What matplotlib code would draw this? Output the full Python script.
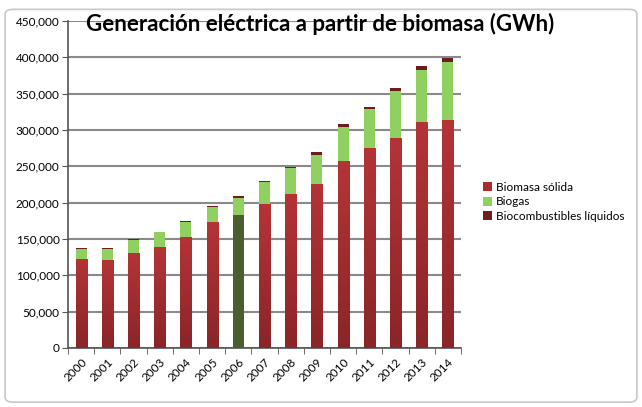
import numpy as np
import matplotlib.pyplot as plt
from matplotlib.colors import LinearSegmentedColormap
from matplotlib.patches import FancyBboxPatch

years = [str(y) for y in range(2000, 2015)]
solida = [123000, 121500, 131000, 139500, 153000, 173000, 183000, 198000,
          212500, 226000, 258000, 275000, 288500, 310500, 314000]
biogas = [13000, 15000, 17500, 19500, 20000, 20500, 24000, 30500,
          35000, 40000, 45700, 53500, 65200, 72500, 79600]
liquidos = [1000, 1200, 1300, 1000, 1300, 1800, 2200, 1800,
            1500, 4200, 5000, 3600, 4100, 4600, 5000]
highlight_year = "2006"

plt.rcParams["font.family"] = ["Lato", "DejaVu Sans"]

fig = plt.figure(figsize=(6.42, 4.07), dpi=100)
ax = fig.add_axes([68 / 642, 1 - 348 / 407, 393 / 642, 327 / 407])

# outer rounded frame
frame = FancyBboxPatch((0.008, 0.012), 0.984, 0.965,
                       boxstyle="round,pad=0,rounding_size=0.012",
                       transform=fig.transFigure, fill=False,
                       edgecolor="#c8c8c8", linewidth=1.2)
fig.patches.append(frame)

x = np.arange(len(years))
w = 0.42
c_solid = ["#4b5f2e" if y == highlight_year else "#a92d2f" for y in years]
bars = ax.bar(x, solida, w, color=c_solid, label="Biomasa sólida", zorder=3)
ax.bar(x, biogas, w, bottom=solida, color="#8fd060", label="Biogas", zorder=3)
bottom2 = np.array(solida) + np.array(biogas)
ax.bar(x, liquidos, w, bottom=bottom2, color="#6b1d1f",
       label="Biocombustibles líquidos", zorder=3)

# vertical gradient on the red bars (darker at the base)
red_grad = LinearSegmentedColormap.from_list("rg", ["#8a2528", "#b43437"])
grad = np.linspace(0, 1, 256).reshape(-1, 1)
for b, yr in zip(bars, years):
    if yr == highlight_year:
        continue
    x0, h = b.get_x(), b.get_height()
    im = ax.imshow(grad, cmap=red_grad, origin="lower", aspect="auto",
                   extent=[x0, x0 + w, 0, h], zorder=3.5)
    im.set_clip_path(b)

ax.set_xlim(-0.5, len(years) - 0.5)
ax.set_ylim(0, 450000)
ax.set_yticks(np.arange(0, 450001, 50000))
ax.set_yticklabels([f"{v:,}" for v in range(0, 450001, 50000)], fontsize=8.5)
ax.set_xticks(x)
ax.set_xticklabels(years, rotation=45, fontsize=8.5, ha="right",
                   rotation_mode="anchor")
ax.set_xticks(np.arange(-0.5, len(years)), minor=True)
ax.tick_params(axis="x", which="major", length=0, pad=6)
ax.tick_params(axis="x", which="minor", length=4, color="#555555")
ax.tick_params(axis="y", length=4, color="#555555", pad=2)

ax.grid(axis="y", color="#8a8a8a", linewidth=1.5, zorder=0)
for s in ["top", "right"]:
    ax.spines[s].set_visible(False)
ax.spines["left"].set_color("#555555")
ax.spines["bottom"].set_color("#555555")
ax.spines["left"].set_linewidth(1.2)
ax.spines["bottom"].set_linewidth(1.2)

fig.text(320 / 642, 1 - 24 / 407, "Generación eléctrica a partir de biomasa (GWh)",
         ha="center", va="center", fontsize=16, fontweight="bold")

ax.legend(loc="center left", bbox_to_anchor=(472 / 642, 1 - 202 / 407),
          bbox_transform=fig.transFigure, frameon=False, fontsize=8.5,
          handlelength=0.8, handleheight=0.8, handletextpad=0.3,
          labelspacing=0.3)

fig.savefig("out.png", dpi=100)
